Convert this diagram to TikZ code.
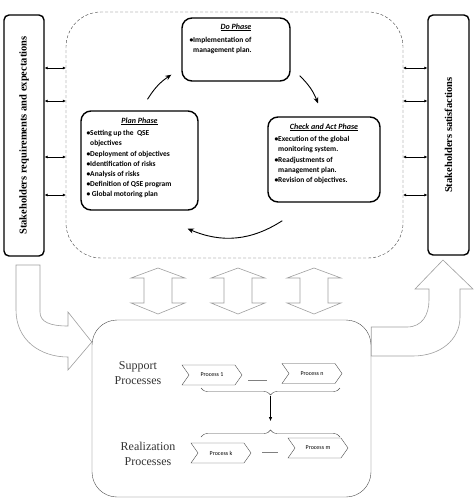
\documentclass[tikz,border=0pt]{standalone}
\usepackage{fontspec}
\setmainfont{Liberation Serif}
\newfontfamily\phasefont{Carlito}
\usetikzlibrary{shapes.symbols,decorations.pathreplacing,arrows.meta,calc}

\tikzset{
  phase/.style={draw,line width=1.4pt,rounded corners=10pt,inner sep=0pt},
  side/.style={draw,line width=1.4pt,rounded corners=5pt,rotate=90,inner sep=0pt,
    font=\bfseries\fontsize{10.5}{12}\selectfont},
  ptitle/.style={anchor=north,inner sep=0pt,font=\phasefont\bfseries\itshape\fontsize{8}{10}\selectfont},
  ptext/.style={anchor=north west,align=left,inner sep=0pt,
    font=\phasefont\bfseries\fontsize{7.5}{10.2}\selectfont},
  cyc/.style={-{Stealth[length=6pt,width=5pt]},line width=0.9pt},
  link/.style={{Latex[length=3pt,width=3pt]}-{Latex[length=3pt,width=3pt]},semithick},
  block/.style={draw=gray!75,fill=white,line width=0.6pt},
  proc/.style={signal,signal to=east,signal from=west,signal pointer angle=110,
    draw=gray!60!black,fill=white,minimum width=60pt,minimum height=20pt,inner sep=0pt,
    font=\phasefont\fontsize{6}{7}\selectfont},
  group/.style={align=center,text=black!80,font=\fontsize{12}{14.5}\selectfont}
}

\begin{document}
\begin{tikzpicture}[x=1pt,y=-1pt]
  \useasboundingbox (0,0) rectangle (475,501);

  % stakeholders
  \node[side,minimum width=241pt,minimum height=40pt] (left) at (24,135.5)
    {Stakeholders requirements and expectations};
  \node[side,minimum width=240pt,minimum height=41pt] (right) at (448.5,135)
    {Stakeholders satisfactions};

  % PDCA loop
  \node[draw=black!75,dash pattern=on 3pt off 2pt,rounded corners=35pt,
    minimum width=337pt,minimum height=246pt,inner sep=0pt] (loop) at (234.5,135) {};
  \foreach \y in {68,101,157,195} {
    \draw[link] (left.south |- 0,\y) -- (loop.west |- 0,\y);
    \draw[link] (loop.east |- 0,\y) -- (right.north |- 0,\y);
  }

  \node[phase,minimum width=117pt,minimum height=99pt] (plan) at (139.5,160.5) {};
  \node[ptitle] (plantitle) at ([yshift=-7pt]plan.north) {\underline{Plan Phase}};
  \node[ptext] (planbody) at ([xshift=6pt,yshift=-20pt]plan.north west)
    {•Setting up the\ \ QSE\\\phantom{•}objectives\\•Deployment of objectives\\
     •Identification of risks\\•Analysis of risks\\•Definition of QSE program\\
     • Global motoring plan};

  \node[phase,minimum width=108pt,minimum height=63pt] (do) at (236,49.5) {};
  \node[ptitle] (dotitle) at ([yshift=-6pt]do.north) {\underline{Do Phase}};
  \node[ptext] (dobody) at ([xshift=8pt,yshift=-20pt]do.north west)
    {•Implementation of\\\phantom{•}management plan.};

  \node[phase,minimum width=112pt,minimum height=85pt] (check) at (324,159.5) {};
  \node[ptitle] (checktitle) at ([yshift=-7pt]check.north) {\underline{Check and Act Phase}};
  \node[ptext] (checkbody) at ([xshift=7pt,yshift=-20pt]check.north west)
    {•Execution of the global\\\phantom{•}monitoring system.\\•Readjustments of\\
     \phantom{•}management plan.\\•Revision of objectives.};

  \draw[cyc] ([xshift=8pt,yshift=11pt]plan.north) to[bend left=12] ([xshift=-10pt,yshift=7pt]do.south west);
  \draw[cyc] ([xshift=9pt,yshift=6pt]do.south east) to[bend left=12] ([xshift=-6pt,yshift=13pt]check.north);
  \draw[cyc] ([xshift=15pt,yshift=-18pt]check.south west) to[bend left=28] ([xshift=-11pt,yshift=-18pt]plan.south east);

  % interaction arrows
  \foreach \x in {158,238,314}
    \draw[block] (\x-27,278) -- (\x,268) -- (\x+27,278) -- (\x+14,278) -- (\x+14,303)
      -- (\x+27,303) -- (\x,314) -- (\x-27,303) -- (\x-14,303) -- (\x-14,278) -- cycle;

  % processes
  \node[draw=black!70,rounded corners=25pt,minimum width=279pt,minimum height=177pt,
    inner sep=0pt] (proc) at (231.5,408.5) {};

  \draw[block] (16,265) -- (16,310) .. controls (16,340) and (40,357) .. (68,357)
    -- (68,370) -- (proc.west |- 0,342) -- (68,312) -- (68,326)
    .. controls (50,326) and (40,322) .. (40,312) -- (40,265) -- cycle;
  \draw[block] (proc.east |- 0,327) -- (407,327) .. controls (422,327) and (429,315) .. (429,300)
    -- (429,289) -- (415,289) -- (443,260) -- (473,289) -- (460,289) -- (460,317)
    .. controls (460,340) and (440,356) .. (413,356) -- (proc.east |- 0,356) -- cycle;

  \node[group] (support) at (138,373) {Support\\Processes};
  \node[group] (realization) at (148,454) {Realization\\Processes};

  \node[proc] (p1) at (212,375) {Process 1};
  \node[proc] (pn) at (312,373.5) {Process n};
  \node[proc] (pk) at (221,453) {Process k};
  \node[proc] (pm) at (318,448) {Process m};
  \draw[gray] (248,380) -- (267,380);
  \draw[gray] (262,452) -- (278,452);

  \draw[gray!60!black,decorate,decoration={brace,amplitude=7pt,mirror}] (201,388) -- (340,388);
  \draw[gray!60!black,decorate,decoration={brace,amplitude=7pt}] (201,437) -- (340,437);
  \coordinate (stip) at (270.5,396);
  \coordinate (rtip) at (270.5,430);
  \draw[-{Latex[length=4pt,width=3.5pt]},shorten >=9pt] (stip) -- (rtip);
\end{tikzpicture}
\end{document}
